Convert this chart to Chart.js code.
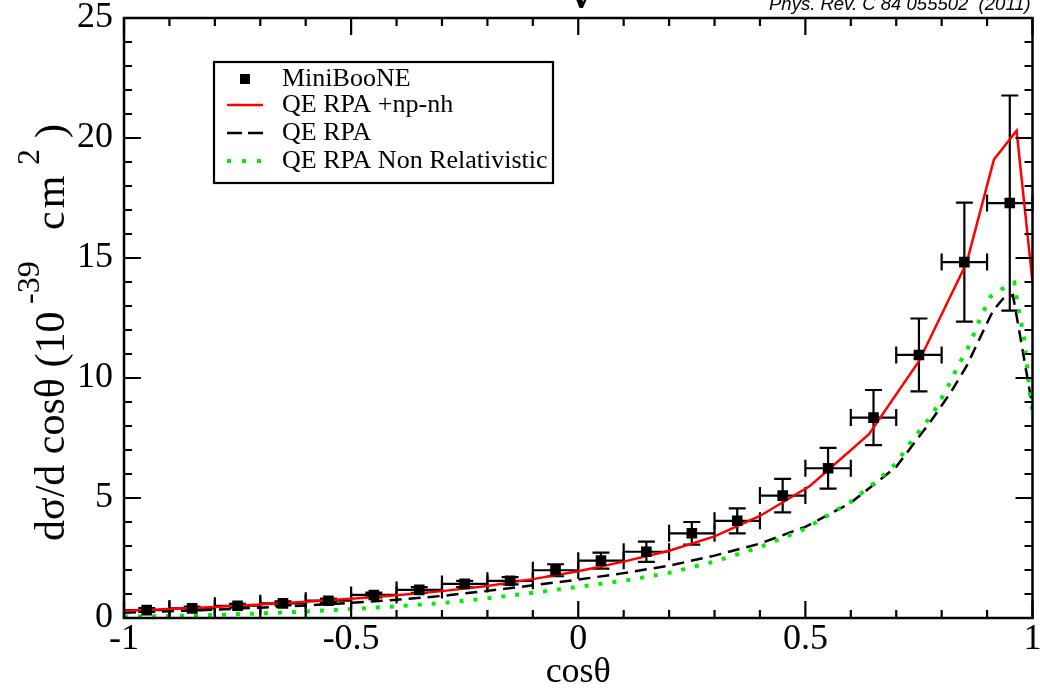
<!DOCTYPE html>
<html>
<head>
<meta charset="utf-8">
<script src="https://cdn.jsdelivr.net/npm/chart.js@4.4.0/dist/chart.umd.min.js"></script>
<style>
html,body{margin:0;padding:0;background:#fff;}
#wrap{width:1040px;height:692px;position:relative;}
</style>
</head>
<body>
<div id="wrap"><canvas id="c" width="1040" height="692"></canvas></div>
<script>
// ---- MiniBooNE data (bin centres, values, errors) ----
const dataX    = [-0.95,-0.85,-0.75,-0.65,-0.55,-0.45,-0.35,-0.25,-0.15,-0.05,0.05,0.15,0.25,0.35,0.45,0.55,0.65,0.75,0.85,0.95];
const dataY    = [0.33,0.40,0.51,0.61,0.72,0.96,1.17,1.42,1.55,1.99,2.39,2.76,3.53,4.05,5.10,6.24,8.35,10.96,14.83,17.29];
const dataErrY = [0.08,0.08,0.08,0.08,0.09,0.10,0.12,0.13,0.15,0.25,0.33,0.42,0.47,0.52,0.70,0.85,1.15,1.52,2.48,4.48];
const dataErrX = [0.05,0.05,0.05,0.05,0.05,0.05,0.05,0.05,0.05,0.05,0.05,0.05,0.05,0.05,0.05,0.05,0.05,0.05,0.05,0.05];

// ---- QE RPA + np-nh (red solid) ----
const npnhX = [-1,-0.9,-0.8,-0.7,-0.6,-0.5,-0.4,-0.3,-0.2,-0.1,0,0.1,0.2,0.3,0.4,0.51,0.64,0.75,0.855,0.915,0.965,1.0];
const npnhY = [0.30,0.37,0.46,0.56,0.68,0.80,0.95,1.12,1.33,1.62,1.95,2.35,2.80,3.40,4.25,5.50,7.66,10.70,14.80,19.10,20.30,14.00];

// ---- QE RPA (black dashed) ----
const rpaX = [-1,-0.9,-0.8,-0.7,-0.6,-0.5,-0.4,-0.3,-0.2,-0.1,0,0.1,0.2,0.3,0.4,0.5,0.6,0.7,0.78,0.82,0.855,0.885,0.913,0.935,0.957,1.0];
const rpaY = [0.22,0.28,0.35,0.43,0.52,0.63,0.76,0.92,1.13,1.36,1.60,1.87,2.18,2.60,3.10,3.80,4.80,6.30,8.30,9.40,10.50,11.70,12.80,13.30,13.45,8.80];

// ---- QE RPA Non Relativistic (green dotted) ----
const nrX = [-1,-0.9,-0.8,-0.7,-0.6,-0.5,-0.4,-0.3,-0.2,-0.1,0,0.1,0.2,0.3,0.4,0.5,0.6,0.66,0.7,0.73,0.78,0.81,0.836,0.862,0.883,0.908,0.932,0.96,0.971,0.982,0.994,1.0];
const nrY = [0.05,0.08,0.13,0.19,0.27,0.37,0.49,0.62,0.82,1.05,1.30,1.55,1.88,2.35,2.95,3.72,4.85,5.75,6.45,7.28,8.50,9.50,10.50,11.40,12.40,13.40,13.70,13.97,12.70,11.60,9.40,8.60];

// ---- axis ticks ----
const xTickValues = [-1,-0.5,0,0.5,1];
const xTickLabels = ['-1','-0.5','0','0.5','1'];
const yTickValues = [0,5,10,15,20,25];
const yTickLabels = ['0','5','10','15','20','25'];

const legendLabels = ['MiniBooNE','QE RPA +np-nh','QE RPA','QE RPA Non Relativistic'];

const zip = (xs, ys) => xs.map((v,i)=>({x:v, y:ys[i]}));

const SERIF = '"Liberation Serif", "Times New Roman", serif';

const overlay = {
  id: 'overlay',
  beforeDatasetsDraw(chart) {
    const {ctx, scales:{x, y}} = chart;
    ctx.save();
    ctx.strokeStyle = '#000';
    ctx.lineWidth = 2.2;
    ctx.lineCap = 'butt';
    const cap = 8.5;
    for (let i = 0; i < dataX.length; i++) {
      const px = x.getPixelForValue(dataX[i]);
      const py = y.getPixelForValue(dataY[i]);
      const pl = x.getPixelForValue(dataX[i] - dataErrX[i]);
      const pr = x.getPixelForValue(dataX[i] + dataErrX[i]);
      const pt = y.getPixelForValue(dataY[i] + dataErrY[i]);
      const pb = y.getPixelForValue(dataY[i] - dataErrY[i]);
      ctx.beginPath();
      ctx.moveTo(pl, py); ctx.lineTo(pr, py);
      ctx.moveTo(pl, py - cap); ctx.lineTo(pl, py + cap);
      ctx.moveTo(pr, py - cap); ctx.lineTo(pr, py + cap);
      ctx.moveTo(px, pt); ctx.lineTo(px, pb);
      ctx.moveTo(px - cap, pt); ctx.lineTo(px + cap, pt);
      ctx.moveTo(px - cap, pb); ctx.lineTo(px + cap, pb);
      ctx.stroke();
    }
    ctx.restore();
  },
  afterDraw(chart) {
    const {ctx, chartArea:a, scales:{x, y}} = chart;
    ctx.save();
    // frame
    ctx.strokeStyle = '#000';
    ctx.lineWidth = 2.5;
    ctx.strokeRect(a.left, a.top, a.right - a.left, a.bottom - a.top);
    // inward ticks
    const major = 17, minor = 8;
    ctx.lineWidth = 2.2;
    ctx.beginPath();
    for (let k = -10; k <= 10; k++) {
      const px = x.getPixelForValue(k / 10);
      const L = (k % 5 === 0) ? major : minor;
      ctx.moveTo(px, a.bottom); ctx.lineTo(px, a.bottom - L);
      ctx.moveTo(px, a.top); ctx.lineTo(px, a.top + L);
    }
    for (let k = 0; k <= 25; k++) {
      const py = y.getPixelForValue(k);
      const L = (k % 5 === 0) ? major : minor;
      ctx.moveTo(a.left, py); ctx.lineTo(a.left + L, py);
      ctx.moveTo(a.right, py); ctx.lineTo(a.right - L, py);
    }
    ctx.stroke();

    // legend box
    const lx = a.left + 90, ly = a.top + 44, lw = 339, lh = 121;
    ctx.fillStyle = '#fff';
    ctx.fillRect(lx, ly, lw, lh);
    ctx.lineWidth = 2.2;
    ctx.strokeStyle = '#000';
    ctx.strokeRect(lx, ly, lw, lh);
    ctx.font = '26px ' + SERIF;
    ctx.fillStyle = '#000';
    ctx.textBaseline = 'alphabetic';
    ctx.textAlign = 'left';
    const rowBase = [ly + 24, ly + 50, ly + 78, ly + 106];
    const symL = lx + 13, symR = lx + 49;
    legendLabels.forEach((t, i) => {
      ctx.fillStyle = '#000';
      ctx.fillText(t, lx + 68, rowBase[i]);
      const sy = rowBase[i] - 7;
      ctx.save();
      if (i === 0) {
        ctx.fillRect(lx + 26, sy - 5, 10, 10);
      } else if (i === 1) {
        ctx.strokeStyle = '#ff0000'; ctx.lineWidth = 2.5;
        ctx.beginPath(); ctx.moveTo(symL, sy); ctx.lineTo(symR, sy); ctx.stroke();
      } else if (i === 2) {
        ctx.strokeStyle = '#000'; ctx.lineWidth = 2.5; ctx.setLineDash([15, 6]);
        ctx.beginPath(); ctx.moveTo(symL, sy); ctx.lineTo(symR, sy); ctx.stroke();
      } else {
        ctx.strokeStyle = '#00ee00'; ctx.lineWidth = 4; ctx.setLineDash([4, 11]);
        ctx.beginPath(); ctx.moveTo(symL, sy); ctx.lineTo(symR, sy); ctx.stroke();
      }
      ctx.restore();
    });

    // y-axis title with superscripts (u = offset along the axis from plot centre)
    const mainFont = '42px ' + SERIF, supFont = '32px ' + SERIF;
    const parts = [
      {t:'dσ/d cosθ (10', font: mainFont, u: -223, up: 0,  sp: 0},
      {t:'-39',           font: supFont,  u: 14,   up: 25, sp: 0},
      {t:'cm',            font: mainFont, u: 88,   up: 0,  sp: 3},
      {t:'2',             font: supFont,  u: 153,  up: 25, sp: 0},
      {t:')',             font: mainFont, u: 180,  up: 0,  sp: 0}
    ];
    const cy = (a.top + a.bottom) / 2;
    ctx.save();
    ctx.translate(64, cy);
    ctx.rotate(-Math.PI / 2);
    ctx.fillStyle = '#000';
    ctx.textAlign = 'left';
    ctx.textBaseline = 'alphabetic';
    parts.forEach(p => {
      ctx.font = p.font;
      let u = p.u;
      for (const ch of p.t) {
        ctx.fillText(ch, u, -p.up);
        u += ctx.measureText(ch).width + p.sp;
      }
    });
    ctx.restore();

    // reference note at the top right (partly cut off)
    ctx.fillStyle = '#000';
    ctx.textAlign = 'left';
    ctx.textBaseline = 'alphabetic';
    const note = 'Phys. Rev. C 84 055502  (2011)';
    ctx.font = 'italic 18px "Liberation Sans", Arial, sans-serif';
    const w18 = ctx.measureText(note).width;
    const fs = 18 * 262 / w18;
    ctx.font = 'italic ' + fs.toFixed(2) + 'px "Liberation Sans", Arial, sans-serif';
    ctx.fillText(note, 769, 10);

    // cut-off title glyph
    ctx.font = 'bold 44px ' + SERIF;
    ctx.textAlign = 'center';
    ctx.fillText('ν', 581, 8);
    ctx.restore();
  }
};

const chart = new Chart(document.getElementById('c'), {
  type: 'scatter',
  data: {
    datasets: [
      {
        label: legendLabels[0],
        data: zip(dataX, dataY),
        pointStyle: 'rect',
        pointRadius: 7.5,
        backgroundColor: '#000',
        borderColor: '#000',
        borderWidth: 0,
        showLine: false,
        order: 0
      },
      {
        label: legendLabels[1],
        data: zip(npnhX, npnhY),
        showLine: true,
        borderColor: '#ff0000',
        borderWidth: 2.5,
        pointRadius: 0,
        tension: 0,
        order: 1
      },
      {
        label: legendLabels[2],
        data: zip(rpaX, rpaY),
        showLine: true,
        borderColor: '#000',
        borderWidth: 2.5,
        borderDash: [12, 7],
        pointRadius: 0,
        tension: 0,
        order: 3
      },
      {
        label: legendLabels[3],
        data: zip(nrX, nrY),
        showLine: true,
        borderColor: '#00ee00',
        borderWidth: 4,
        borderDash: [4, 10],
        pointRadius: 0,
        tension: 0,
        order: 2
      }
    ]
  },
  options: {
    responsive: false,
    animation: false,
    devicePixelRatio: 1,
    layout: { padding: { top: 18, right: 3, left: 0, bottom: 0 } },
    plugins: { legend: { display: false }, tooltip: { enabled: false } },
    scales: {
      x: {
        type: 'linear', min: -1, max: 1,
        grid: { display: false, drawTicks: false },
        border: { display: false },
        afterBuildTicks: s => { s.ticks = xTickValues.map(v => ({value: v})); },
        afterFit: s => { s.height = 74; s.paddingLeft = 0; s.paddingRight = 0; },
        ticks: {
          font: { family: SERIF, size: 36 }, color: '#000', padding: 0,
          maxRotation: 0, autoSkip: false,
          callback: (v, i) => xTickLabels[i]
        },
        title: {
          display: true, text: 'cosθ', color: '#000',
          font: { family: SERIF, size: 36, lineHeight: 1 },
          padding: { top: 0, bottom: 1 }
        }
      },
      y: {
        type: 'linear', min: 0, max: 25,
        grid: { display: false, drawTicks: false },
        border: { display: false },
        afterBuildTicks: s => { s.ticks = yTickValues.map(v => ({value: v})); },
        afterFit: s => { s.width = 124; s.paddingTop = 0; s.paddingBottom = 0; },
        ticks: {
          font: { family: SERIF, size: 36 }, color: '#000', padding: 11,
          autoSkip: false,
          callback: (v, i) => yTickLabels[i]
        }
      }
    }
  },
  plugins: [overlay]
});
</script>
</body>
</html>
